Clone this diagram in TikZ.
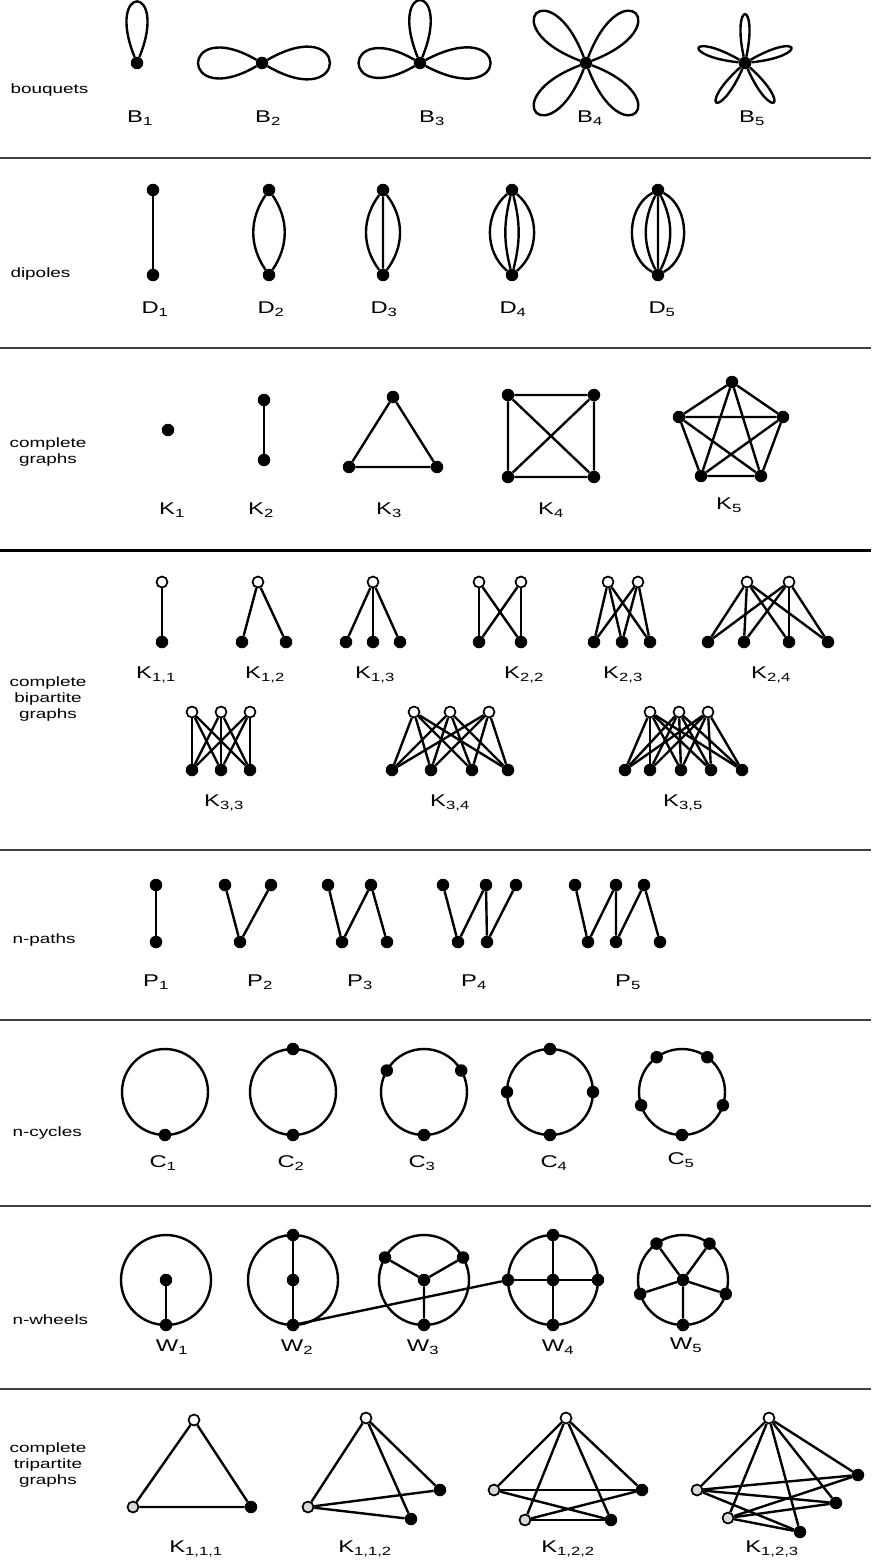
\documentclass[tikz,border=0pt]{standalone}
\usepackage{fontspec}
\setmainfont{Liberation Sans}[FakeStretch=1.4]

\tikzset{
  dot/.style={circle, fill=black, inner sep=0pt, minimum size=12.5pt},
  empty dot/.style={circle, draw=black, fill=white, line width=1.7pt, inner sep=0pt, minimum size=11pt},
  shaded dot/.style={circle, draw=black, fill=black!15, line width=1.7pt, inner sep=0pt, minimum size=11pt},
  plain/.style={draw=black, line width=2.4pt},
  divider/.style={draw=black!75, line width=1.8pt},
  family/.style={font=\fontsize{13.5}{16}\selectfont, align=center},
  graphname/.style={font=\fontsize{17}{20}\selectfont},
}
\newcommand{\gsub}[2]{#1\textsubscript{#2}}

\begin{document}
\begin{tikzpicture}[x=1pt, y=-1pt]
  \useasboundingbox (0,0) rectangle (871,1560);

  % dividers
  \draw[divider] (0,158) -- (871,158);
  \draw[divider] (0,348) -- (871,348);
  \draw[divider, draw=black, line width=3pt] (0,550) -- (871,550);
  \draw[divider] (0,850) -- (871,850);
  \draw[divider] (0,1020) -- (871,1020);
  \draw[divider] (0,1206) -- (871,1206);
  \draw[divider] (0,1389) -- (871,1389);

  % bouquets
  \node[family, anchor=west] (fb) at (7,90) {bouquets};
  \node[dot] (b1) at (137,63) {};
  \draw[plain] (b1) to[out=68, in=112, min distance=80pt] (b1);
  \node[dot] (b2) at (262,63) {};
  \draw[plain] (b2) to[out=150, in=210, min distance=90pt] (b2);
  \draw[plain] (b2) to[out=-30, in=30, min distance=96pt] (b2);
  \node[dot] (b3) at (420,63) {};
  \draw[plain] (b3) to[out=68, in=112, min distance=82pt] (b3);
  \draw[plain] (b3) to[out=150, in=210, min distance=86pt] (b3);
  \draw[plain] (b3) to[out=-28, in=28, min distance=98pt] (b3);
  \node[dot] (b4) at (586,63) {};
  \foreach \o/\i in {21/69, 111/159, 201/249, 291/339}
    \draw[plain] (b4) to[out=\o, in=\i, min distance=94pt] (b4);
  \node[dot] (b5) at (745,63) {};
  \foreach \o/\i in {6/30, 78/102, 150/174, 222/246, 294/318}
    \draw[plain] (b5) to[out=\o, in=\i, min distance=58pt] (b5);
  \node[graphname] (lb1) at (140,118) {\gsub{B}{1}};
  \node[graphname] (lb2) at (268,118) {\gsub{B}{2}};
  \node[graphname] (lb3) at (432,118) {\gsub{B}{3}};
  \node[graphname] (lb4) at (590,118) {\gsub{B}{4}};
  \node[graphname] (lb5) at (752,118) {\gsub{B}{5}};

  % dipoles
  \node[family, anchor=west] (fd) at (7,274) {dipoles};
  \node[dot] (d1a) at (153,190) {};
  \node[dot] (d1b) at (153,275) {};
  \draw[plain] (d1a) -- (d1b);
  \node[dot] (d2a) at (269,190) {};
  \node[dot] (d2b) at (269,275) {};
  \draw[plain] (d2a) to[bend left=34] (d2b) (d2a) to[bend right=34] (d2b);
  \node[dot] (d3a) at (383,190) {};
  \node[dot] (d3b) at (383,275) {};
  \draw[plain] (d3a) to[bend left=37] (d3b) (d3a) to[bend right=37] (d3b) (d3a) -- (d3b);
  \node[dot] (d4a) at (512,190) {};
  \node[dot] (d4b) at (512,275) {};
  \draw[plain] (d4a) to[bend left=50] (d4b) (d4a) to[bend right=50] (d4b)
    (d4a) to[bend left=14] (d4b) (d4a) to[bend right=14] (d4b);
  \node[dot] (d5a) at (658,190) {};
  \node[dot] (d5b) at (658,275) {};
  \draw[plain] (d5a) to[bend left=62] (d5b) (d5a) to[bend right=62] (d5b)
    (d5a) to[bend left=26] (d5b) (d5a) to[bend right=26] (d5b) (d5a) -- (d5b);
  \node[graphname] (ld1) at (155,309) {\gsub{D}{1}};
  \node[graphname] (ld2) at (271,309) {\gsub{D}{2}};
  \node[graphname] (ld3) at (384,309) {\gsub{D}{3}};
  \node[graphname] (ld4) at (513,309) {\gsub{D}{4}};
  \node[graphname] (ld5) at (662,309) {\gsub{D}{5}};

  % complete graphs
  \node[family] (fk) at (48,452) {complete\\graphs};
  \node[dot] (k1a) at (168,430) {};
  \node[dot] (k2a) at (264,400) {};
  \node[dot] (k2b) at (264,460) {};
  \draw[plain] (k2a) -- (k2b);
  \node[dot] (k3a) at (393,397) {};
  \node[dot] (k3b) at (349,467) {};
  \node[dot] (k3c) at (437,467) {};
  \draw[plain] (k3a) -- (k3b) -- (k3c) -- (k3a);
  \node[dot] (k4a) at (508,395) {};
  \node[dot] (k4b) at (594,395) {};
  \node[dot] (k4c) at (508,477) {};
  \node[dot] (k4d) at (594,477) {};
  \draw[plain] (k4a) -- (k4b) -- (k4d) -- (k4c) -- (k4a) (k4a) -- (k4d) (k4b) -- (k4c);
  \node[dot] (k5a) at (732,382) {};
  \node[dot] (k5b) at (679,417) {};
  \node[dot] (k5c) at (783,417) {};
  \node[dot] (k5d) at (701,476) {};
  \node[dot] (k5e) at (761,476) {};
  \draw[plain] (k5a) -- (k5b) -- (k5d) -- (k5e) -- (k5c) -- (k5a) -- (k5d)
    (k5a) -- (k5e) (k5b) -- (k5c) (k5b) -- (k5e) (k5c) -- (k5d);
  \node[graphname] (lk1) at (172,510) {\gsub{K}{1}};
  \node[graphname] (lk2) at (261,510) {\gsub{K}{2}};
  \node[graphname] (lk3) at (389,510) {\gsub{K}{3}};
  \node[graphname] (lk4) at (551,510) {\gsub{K}{4}};
  \node[graphname] (lk5) at (729,505) {\gsub{K}{5}};

  % complete bipartite graphs
  \node[family] (fq) at (48,699) {complete\\bipartite\\graphs};
  \node[empty dot] (q11u1) at (162,582) {};
  \node[dot] (q11w1) at (162,642) {};
  \draw[plain] (q11u1) -- (q11w1);
  \node[empty dot] (q12u1) at (258,582) {};
  \node[dot] (q12w1) at (242,642) {};
  \node[dot] (q12w2) at (286,642) {};
  \draw[plain] (q12w1) -- (q12u1) -- (q12w2);
  \node[empty dot] (q13u1) at (373,582) {};
  \foreach \x [count=\j] in {346,373,400} {
    \node[dot] (q13w\j) at (\x,642) {};
    \draw[plain] (q13u1) -- (q13w\j);
  }
  \foreach \x [count=\i] in {479,521} \node[empty dot] (q22u\i) at (\x,582) {};
  \foreach \x [count=\j] in {479,521} \node[dot] (q22w\j) at (\x,642) {};
  \foreach \i in {1,2} \foreach \j in {1,2} \draw[plain] (q22u\i) -- (q22w\j);
  \foreach \x [count=\i] in {608,638} \node[empty dot] (q23u\i) at (\x,582) {};
  \foreach \x [count=\j] in {594,622,650} \node[dot] (q23w\j) at (\x,642) {};
  \foreach \i in {1,2} \foreach \j in {1,2,3} \draw[plain] (q23u\i) -- (q23w\j);
  \foreach \x [count=\i] in {747,789} \node[empty dot] (q24u\i) at (\x,582) {};
  \foreach \x [count=\j] in {708,744,789,828} \node[dot] (q24w\j) at (\x,642) {};
  \foreach \i in {1,2} \foreach \j in {1,...,4} \draw[plain] (q24u\i) -- (q24w\j);
  \node[graphname] (lq11) at (156,675) {\gsub{K}{1,1}};
  \node[graphname] (lq12) at (265,675) {\gsub{K}{1,2}};
  \node[graphname] (lq13) at (375,675) {\gsub{K}{1,3}};
  \node[graphname] (lq22) at (524,675) {\gsub{K}{2,2}};
  \node[graphname] (lq23) at (623,675) {\gsub{K}{2,3}};
  \node[graphname] (lq24) at (771,675) {\gsub{K}{2,4}};

  \foreach \x [count=\i] in {192,221,250} \node[empty dot] (q33u\i) at (\x,712) {};
  \foreach \x [count=\j] in {192,221,250} \node[dot] (q33w\j) at (\x,770) {};
  \foreach \i in {1,2,3} \foreach \j in {1,2,3} \draw[plain] (q33u\i) -- (q33w\j);
  \foreach \x [count=\i] in {414,450,489} \node[empty dot] (q34u\i) at (\x,712) {};
  \foreach \x [count=\j] in {392,431,472,508} \node[dot] (q34w\j) at (\x,770) {};
  \foreach \i in {1,2,3} \foreach \j in {1,...,4} \draw[plain] (q34u\i) -- (q34w\j);
  \foreach \x [count=\i] in {650,679,708} \node[empty dot] (q35u\i) at (\x,712) {};
  \foreach \x [count=\j] in {625,650,681,711,742} \node[dot] (q35w\j) at (\x,770) {};
  \foreach \i in {1,2,3} \foreach \j in {1,...,5} \draw[plain] (q35u\i) -- (q35w\j);
  \node[graphname] (lq33) at (224,803) {\gsub{K}{3,3}};
  \node[graphname] (lq34) at (450,803) {\gsub{K}{3,4}};
  \node[graphname] (lq35) at (683,803) {\gsub{K}{3,5}};

  % n-paths
  \node[family, anchor=west] (fp) at (9,940) {n-paths};
  \node[dot] (p1t1) at (156,885) {};
  \node[dot] (p1b1) at (156,942) {};
  \draw[plain] (p1t1) -- (p1b1);
  \node[dot] (p2t1) at (225,885) {};
  \node[dot] (p2b1) at (240,942) {};
  \node[dot] (p2t2) at (271,885) {};
  \draw[plain] (p2t1) -- (p2b1) -- (p2t2);
  \node[dot] (p3t1) at (328,885) {};
  \node[dot] (p3b1) at (342,942) {};
  \node[dot] (p3t2) at (371,885) {};
  \node[dot] (p3b2) at (387,942) {};
  \draw[plain] (p3t1) -- (p3b1) -- (p3t2) -- (p3b2);
  \node[dot] (p4t1) at (443,885) {};
  \node[dot] (p4b1) at (458,942) {};
  \node[dot] (p4t2) at (486,885) {};
  \node[dot] (p4b2) at (487,942) {};
  \node[dot] (p4t3) at (516,885) {};
  \draw[plain] (p4t1) -- (p4b1) -- (p4t2) -- (p4b2) -- (p4t3);
  \node[dot] (p5t1) at (575,885) {};
  \node[dot] (p5b1) at (588,942) {};
  \node[dot] (p5t2) at (616,885) {};
  \node[dot] (p5b2) at (616,942) {};
  \node[dot] (p5t3) at (644,885) {};
  \node[dot] (p5b3) at (660,942) {};
  \draw[plain] (p5t1) -- (p5b1) -- (p5t2) -- (p5b2) -- (p5t3) -- (p5b3);
  \node[graphname] (lp1) at (156,982) {\gsub{P}{1}};
  \node[graphname] (lp2) at (260,982) {\gsub{P}{2}};
  \node[graphname] (lp3) at (360,982) {\gsub{P}{3}};
  \node[graphname] (lp4) at (474,982) {\gsub{P}{4}};
  \node[graphname] (lp5) at (628,982) {\gsub{P}{5}};

  % n-cycles
  \node[family, anchor=west] (fc) at (9,1133) {n-cycles};
  \foreach \x [count=\n] in {165,293,424,550,682} {
    \coordinate (c\n) at (\x,1092);
    \draw[plain] (c\n) circle[radius=43];
  }
  \node[dot] (c1a) at (165,1135) {};
  \node[dot] (c2a) at (293,1049) {};
  \node[dot] (c2b) at (293,1135) {};
  \node[dot] (c3a) at (386.8,1070.5) {};
  \node[dot] (c3b) at (461.2,1070.5) {};
  \node[dot] (c3c) at (424,1135) {};
  \node[dot] (c4a) at (550,1049) {};
  \node[dot] (c4b) at (593,1092) {};
  \node[dot] (c4c) at (550,1135) {};
  \node[dot] (c4d) at (507,1092) {};
  \node[dot] (c5a) at (656.7,1057.2) {};
  \node[dot] (c5b) at (707.3,1057.2) {};
  \node[dot] (c5c) at (722.9,1105.3) {};
  \node[dot] (c5d) at (682,1135) {};
  \node[dot] (c5e) at (641.1,1105.3) {};
  \node[graphname] (lc1) at (163,1163) {\gsub{C}{1}};
  \node[graphname] (lc2) at (291,1163) {\gsub{C}{2}};
  \node[graphname] (lc3) at (422,1163) {\gsub{C}{3}};
  \node[graphname] (lc4) at (554,1163) {\gsub{C}{4}};
  \node[graphname] (lc5) at (681,1160) {\gsub{C}{5}};

  % n-wheels
  \node[family, anchor=west] (fw) at (9,1320) {n-wheels};
  \foreach \x [count=\n] in {166,293,424,553,683} {
    \coordinate (w\n) at (\x,1280);
    \draw[plain] (w\n) circle[radius=45];
  }
  \node[dot] (w1h) at (166,1280) {};
  \node[dot] (w1a) at (166,1325) {};
  \draw[plain] (w1h) -- (w1a);
  \node[dot] (w2h) at (293,1280) {};
  \node[dot] (w2a) at (293,1235) {};
  \node[dot] (w2b) at (293,1325) {};
  \draw[plain] (w2a) -- (w2h) -- (w2b);
  \node[dot] (w3h) at (424,1280) {};
  \node[dot] (w3a) at (385,1257.5) {};
  \node[dot] (w3b) at (463,1257.5) {};
  \node[dot] (w3c) at (424,1325) {};
  \draw[plain] (w3h) -- (w3a) (w3h) -- (w3b) (w3h) -- (w3c);
  \node[dot] (w4h) at (553,1280) {};
  \node[dot] (w4a) at (553,1235) {};
  \node[dot] (w4b) at (598,1280) {};
  \node[dot] (w4c) at (553,1325) {};
  \node[dot] (w4d) at (508,1280) {};
  \draw[plain] (w4h) -- (w4a) (w4h) -- (w4b) (w4h) -- (w4c) (w4h) -- (w4d);
  \node[dot] (w5h) at (683,1280) {};
  \node[dot] (w5a) at (656.5,1243.6) {};
  \node[dot] (w5b) at (709.5,1243.6) {};
  \node[dot] (w5c) at (725.8,1293.9) {};
  \node[dot] (w5d) at (683,1325) {};
  \node[dot] (w5e) at (640.2,1293.9) {};
  \draw[plain] (w5h) -- (w5a) (w5h) -- (w5b) (w5h) -- (w5c) (w5h) -- (w5d) (w5h) -- (w5e);
  \draw[plain] (w2b) -- (w4d);
  \node[graphname] (lw1) at (172,1347) {\gsub{W}{1}};
  \node[graphname] (lw2) at (297,1347) {\gsub{W}{2}};
  \node[graphname] (lw3) at (423,1347) {\gsub{W}{3}};
  \node[graphname] (lw4) at (558,1347) {\gsub{W}{4}};
  \node[graphname] (lw5) at (686,1345) {\gsub{W}{5}};

  % complete tripartite graphs
  \node[family] (ft) at (48,1465) {complete\\tripartite\\graphs};
  \node[empty dot] (t111a) at (194,1420) {};
  \node[shaded dot] (t111g1) at (133,1507) {};
  \node[dot] (t111k1) at (251,1507) {};
  \draw[plain] (t111a) -- (t111g1) -- (t111k1) -- (t111a);
  \node[empty dot] (t112a) at (366,1418) {};
  \node[shaded dot] (t112g1) at (308,1507) {};
  \node[dot] (t112k1) at (440,1490) {};
  \node[dot] (t112k2) at (411,1519) {};
  \draw[plain] (t112a) -- (t112g1);
  \foreach \j in {1,2} \draw[plain] (t112a) -- (t112k\j) (t112g1) -- (t112k\j);
  \node[empty dot] (t122a) at (566,1418) {};
  \node[shaded dot] (t122g1) at (494,1490) {};
  \node[shaded dot] (t122g2) at (525,1520) {};
  \node[dot] (t122k1) at (642,1490) {};
  \node[dot] (t122k2) at (611,1520) {};
  \foreach \i in {1,2} {
    \draw[plain] (t122a) -- (t122g\i) (t122a) -- (t122k\i);
    \foreach \j in {1,2} \draw[plain] (t122g\i) -- (t122k\j);
  }
  \node[empty dot] (t123a) at (769,1418) {};
  \node[shaded dot] (t123g1) at (697,1490) {};
  \node[shaded dot] (t123g2) at (728,1518) {};
  \node[dot] (t123k1) at (858,1475) {};
  \node[dot] (t123k2) at (836,1503) {};
  \node[dot] (t123k3) at (800,1532) {};
  \foreach \i in {1,2} \draw[plain] (t123a) -- (t123g\i);
  \foreach \j in {1,2,3} {
    \draw[plain] (t123a) -- (t123k\j);
    \foreach \i in {1,2} \draw[plain] (t123g\i) -- (t123k\j);
  }
  \node[graphname] (lt111) at (196,1549) {\gsub{K}{1,1,1}};
  \node[graphname] (lt112) at (365,1549) {\gsub{K}{1,1,2}};
  \node[graphname] (lt122) at (568,1549) {\gsub{K}{1,2,2}};
  \node[graphname] (lt123) at (772,1549) {\gsub{K}{1,2,3}};
\end{tikzpicture}
\end{document}
